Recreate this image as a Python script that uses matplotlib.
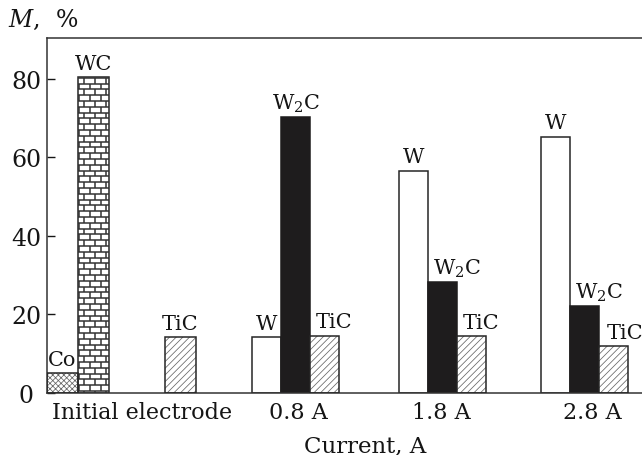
import matplotlib.pyplot as plt
import numpy as np
from matplotlib.collections import LineCollection

plt.rcParams['font.family'] = 'DejaVu Serif'
plt.rcParams['mathtext.fontset'] = 'dejavuserif'
plt.rcParams['hatch.linewidth'] = 0.55

# phase content M, %
init_labels = ['Co', 'WC', 'TiC']
init_vals = [5.0, 80.4, 14.2]

currents = ['0.8 A', '1.8 A', '2.8 A']
w_vals = [14.2, 56.6, 65.3]
w2c_vals = [70.2, 28.2, 22.2]
tic_vals = [14.6, 14.4, 11.9]

group_labels = ['Initial electrode'] + currents
yticks = [0, 20, 40, 60, 80]

# layout (x axis in screen-like units, 1 unit ~ 1 px)
W, H = 642, 456
ax_l, ax_b, ax_t = 47, 394, 39
ymax = 90.4
ppu = (ax_b - ax_t) / ymax

init_left = [0, 31, 118]
init_w = 30.5
grp_start = [205.3, 352.3, 493.7]
bw = 29.0
tick_pos = [95, 251.3, 394, 545]

edge = '#262626'
black = '#1e1c1d'
txt = '#151515'

fig = plt.figure(figsize=(W / 100, H / 100), dpi=100)
ax = fig.add_axes([ax_l / W, 1 - ax_b / H, 1 - ax_l / W, (ax_b - ax_t) / H])
ax.set_xlim(0, W - ax_l)
ax.set_ylim(0, ymax)


def bar_label(x, top, text, ha='center'):
    ax.text(x, top + 8.5 / ppu, text, ha=ha, va='baseline', fontsize=15, color=txt)


def brick(b, rh_px=5.8, bw_px=11.0):
    x0, x1 = b.get_x(), b.get_x() + b.get_width()
    top = b.get_height()
    rh = rh_px / ppu
    segs = []
    ys = np.arange(top - 0.15, 0, -rh)
    for i, y in enumerate(ys):
        segs.append([(x0, y), (x1, y)])
        off = 6.0 if i % 2 == 0 else 1.0
        for xv in np.arange(x0 + off, x1 - 0.5, bw_px):
            if xv > x0 + 0.8:
                segs.append([(xv, max(y - rh, 0)), (xv, y)])
    lc = LineCollection(segs, colors='#333', linewidths=1.1, zorder=3)
    lc.set_clip_path(b)
    ax.add_collection(lc)


# initial electrode
co = ax.bar(init_left[0], init_vals[0], init_w, align='edge', facecolor='white',
            edgecolor='#666', hatch='xxxxxx', linewidth=0, zorder=2)
ax.bar(init_left[0], init_vals[0], init_w, align='edge', fill=False,
       edgecolor=edge, linewidth=1.1, zorder=4)
wc = ax.bar(init_left[1], init_vals[1], init_w, align='edge', facecolor='white',
            edgecolor=edge, linewidth=1.1, zorder=2)
brick(wc[0])
ax.bar(init_left[2], init_vals[2], init_w, align='edge', facecolor='white',
       edgecolor='#666', hatch='/////', linewidth=0, zorder=2)
ax.bar(init_left[2], init_vals[2], init_w, align='edge', fill=False,
       edgecolor=edge, linewidth=1.1, zorder=4)
for x, v, t in zip(init_left, init_vals, init_labels):
    bar_label(x + init_w / 2, v, t)

# after treatment with different currents
w_x = np.array(grp_start)
w2c_x = w_x + bw
tic_x = w_x + 2 * bw
ax.bar(w_x, w_vals, bw, align='edge', facecolor='white', edgecolor=edge,
       linewidth=1.1, zorder=2)
ax.bar(w2c_x, w2c_vals, bw, align='edge', facecolor=black, edgecolor=black,
       linewidth=1.1, zorder=2)
ax.bar(tic_x, tic_vals, bw, align='edge', facecolor='white', edgecolor='#666',
       hatch='/////', linewidth=0, zorder=2)
ax.bar(tic_x, tic_vals, bw, align='edge', fill=False, edgecolor=edge,
       linewidth=1.1, zorder=4)

w2c_dx = [None, 4.5, 5.5]
tic_dx = [5, 5, 8]
for i in range(3):
    bar_label(w_x[i] + bw / 2, w_vals[i], 'W')
    if w2c_dx[i] is None:
        bar_label(w2c_x[i] + bw / 2, w2c_vals[i], r'W$_2$C')
    else:
        bar_label(w2c_x[i] + w2c_dx[i], w2c_vals[i], r'W$_2$C', ha='left')
    bar_label(tic_x[i] + tic_dx[i], tic_vals[i], 'TiC', ha='left')

ax.set_xticks(tick_pos)
ax.set_xticklabels(group_labels)
ax.set_yticks(yticks)
ax.tick_params(axis='x', length=0, pad=6, labelsize=16, colors=txt)
ax.tick_params(axis='y', direction='in', length=6, width=1.0, pad=15,
               labelsize=17, colors=txt)
for lab in ax.get_yticklabels():
    lab.set_horizontalalignment('center')
ax.spines['right'].set_visible(False)
for s in ['left', 'top', 'bottom']:
    ax.spines[s].set_color('#333')
    ax.spines[s].set_linewidth(1.1)

fig.text(8 / W, 1 - 27 / H, r'$M$,  %', fontsize=17, va='baseline', color=txt)
fig.text(365 / W, 1 - 452 / H, 'Current, A', fontsize=16.5, ha='center',
         va='baseline', color=txt)

fig.savefig('out.png', dpi=100)
